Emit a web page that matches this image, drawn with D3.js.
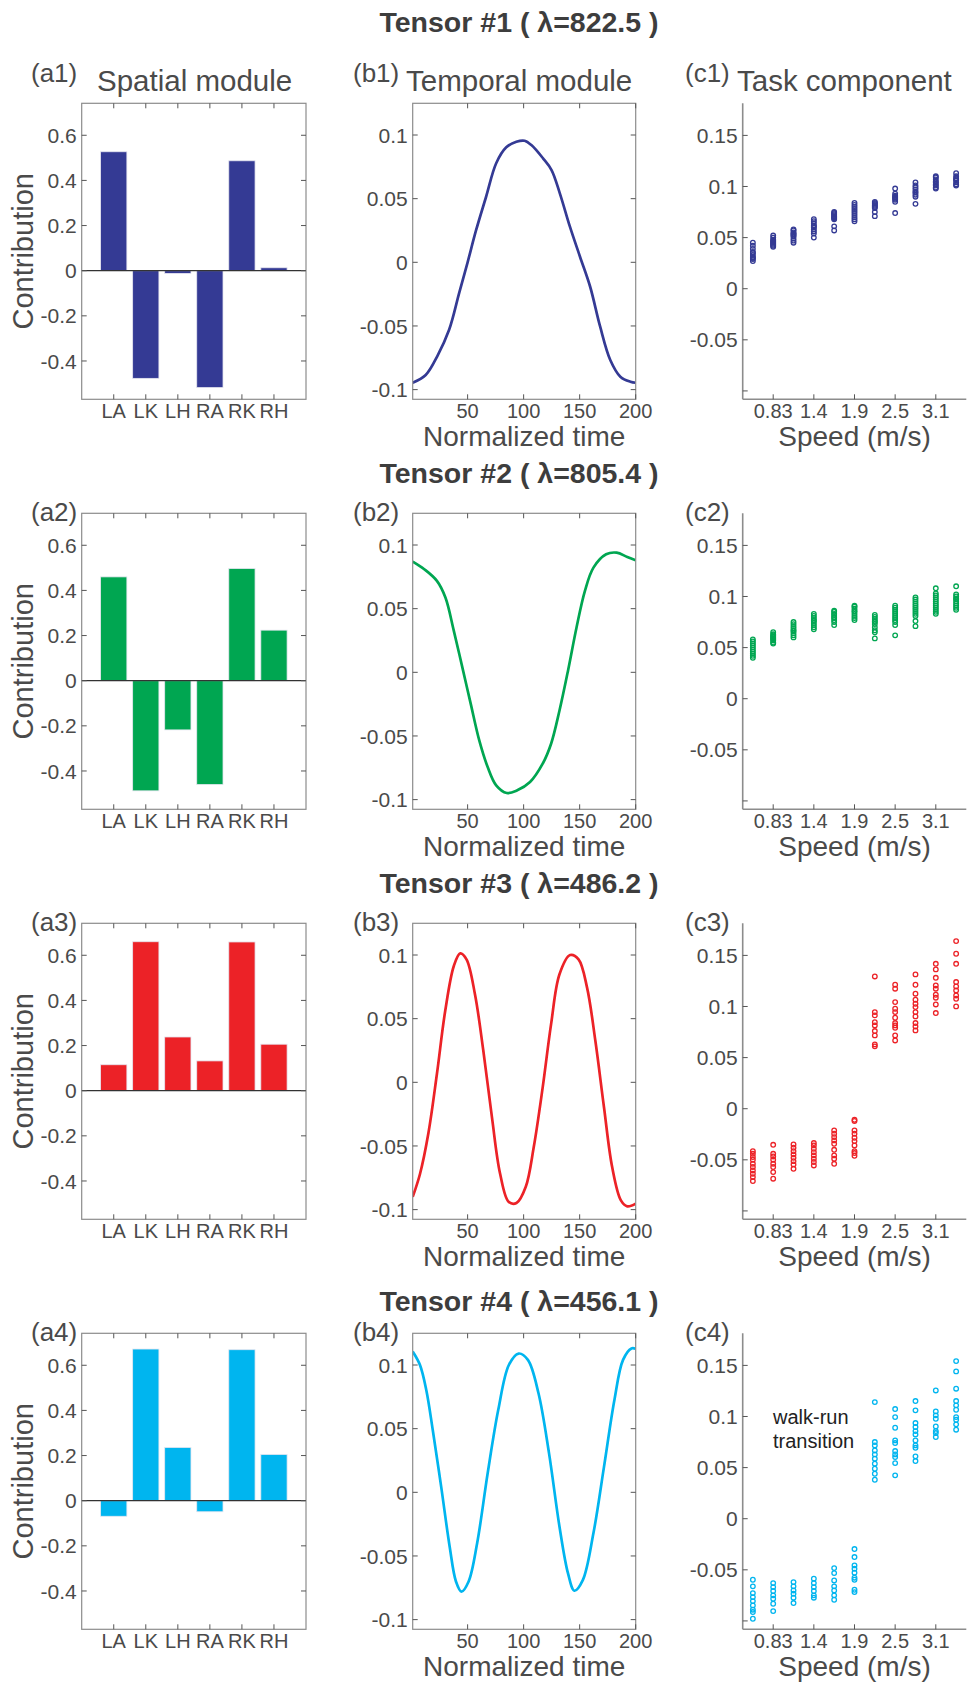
<!DOCTYPE html>
<html><head><meta charset="utf-8">
<script src="https://cdn.jsdelivr.net/npm/d3@7"></script>
<style>
html,body{margin:0;padding:0;background:#fff;}
svg text{font-family:"Liberation Sans",Arial,Helvetica,sans-serif;}
</style></head>
<body>
<svg id="chart" width="968" height="1682"></svg>
<script>
// ---------------- DATA ----------------
const joints = ["LA","LK","LH","RA","RK","RH"];
const tensorTitles = ["Tensor #1 ( λ=822.5 )","Tensor #2 ( λ=805.4 )","Tensor #3 ( λ=486.2 )","Tensor #4 ( λ=456.1 )"];
const colors = ["#343a94","#00a651","#ec2227","#00b5ef"];

const spatial1 = [0.527,-0.477,-0.012,-0.518,0.487,0.013];
const spatial2 = [0.460,-0.488,-0.218,-0.460,0.497,0.224];
const spatial3 = [0.115,0.660,0.238,0.132,0.659,0.206];
const spatial4 = [-0.069,0.672,0.236,-0.049,0.669,0.205];

const temporalT1 = [1,12.6,23,33.5,42.5,50,57.5,66.5,75.5,84.5,93.5,100.9,106.9,117.3,124.9,132.3,141.3,150.3,159.3,168.3,177.3,186.3,195.3,200];
const temporalV1 = [-0.0946,-0.0885,-0.0736,-0.053,-0.024,0,0.025,0.0515,0.0778,0.0903,0.0947,0.0955,0.0921,0.0817,0.0725,0.0542,0.028,0.0044,-0.019,-0.0506,-0.0767,-0.0898,-0.0938,-0.0946];
const temporalT2 = [1,11.3,22.6,30.2,37.7,45.3,52.8,60.4,67.9,75.5,84.9,94.3,105.7,117,124.5,132,139.6,147.2,154.7,162.3,173.6,183,192.5,200];
const temporalV2 = [0.087,0.081,0.0718,0.0587,0.0326,0.0039,-0.0248,-0.0535,-0.0744,-0.0888,-0.0948,-0.0927,-0.0862,-0.0718,-0.0561,-0.030,0.0013,0.0352,0.064,0.0822,0.0927,0.094,0.0906,0.088];
const temporalT3 = [1,7.5,15,22.6,30,37.7,43.4,49,56.6,64,71.7,79,86.8,93.6,101.9,109,117,124.5,132,141.5,149,156.6,164,171.7,179,186.8,192.5,200];
const temporalV3 = [-0.090,-0.072,-0.040,0.0065,0.056,0.0914,0.1013,0.0966,0.069,0.025,-0.0274,-0.0718,-0.094,-0.0948,-0.082,-0.051,-0.004,0.0457,0.0849,0.100,0.0966,0.0744,0.0326,-0.0196,-0.0666,-0.0927,-0.0974,-0.0953];
const temporalT4 = [1,7.5,13.2,18.9,26.4,34,39.6,44.5,50.9,58.5,67.9,77.4,86.8,95.5,103.8,113.2,122.6,132,139.6,145.3,152.8,162.3,171.7,181,188.7,196.2,200];
const temporalV4 = [0.1106,0.100,0.080,0.049,0.0045,-0.0427,-0.070,-0.078,-0.070,-0.040,0.015,0.065,0.100,0.109,0.104,0.078,0.031,-0.027,-0.0637,-0.0773,-0.069,-0.032,0.020,0.0726,0.104,0.113,0.1127];

const speedTickIndex = [2,4,6,8,10];
const speedTickLabels = ["0.83","1.4","1.9","2.5","3.1"];

const task1 = [
 [0.045,0.042,0.039,0.036,0.035,0.033,0.031,0.030,0.029,0.027],
 [0.052,0.050,0.048,0.047,0.046,0.045,0.044,0.043,0.042,0.041],
 [0.058,0.057,0.055,0.054,0.053,0.052,0.051,0.049,0.047,0.045],
 [0.068,0.066,0.064,0.062,0.061,0.060,0.058,0.056,0.054,0.050],
 [0.075,0.074,0.073,0.072,0.071,0.070,0.069,0.068,0.061,0.057],
 [0.084,0.082,0.080,0.078,0.076,0.074,0.072,0.070,0.068,0.066],
 [0.085,0.084,0.083,0.082,0.081,0.080,0.079,0.075,0.071],
 [0.098,0.093,0.091,0.090,0.089,0.088,0.087,0.085,0.074],
 [0.104,0.101,0.099,0.097,0.095,0.094,0.092,0.090,0.083],
 [0.110,0.109,0.107,0.105,0.104,0.102,0.101,0.099,0.098],
 [0.113,0.110,0.108,0.107,0.106,0.104,0.102,0.101]
];
const task2 = [
 [0.058,0.056,0.054,0.052,0.050,0.048,0.046,0.044,0.042,0.040],
 [0.065,0.063,0.062,0.061,0.060,0.059,0.058,0.057,0.055,0.054],
 [0.075,0.073,0.071,0.069,0.067,0.066,0.064,0.062,0.060],
 [0.083,0.081,0.079,0.077,0.076,0.074,0.072,0.070,0.068],
 [0.086,0.085,0.083,0.082,0.080,0.079,0.077,0.075,0.072],
 [0.091,0.090,0.088,0.086,0.085,0.083,0.081,0.079,0.077],
 [0.082,0.080,0.078,0.076,0.075,0.073,0.070,0.067,0.065,0.059],
 [0.091,0.089,0.087,0.085,0.083,0.081,0.079,0.077,0.075,0.072,0.062],
 [0.099,0.097,0.095,0.093,0.091,0.089,0.087,0.085,0.083,0.081,0.076,0.071],
 [0.108,0.103,0.101,0.099,0.097,0.095,0.093,0.091,0.089,0.087,0.085,0.083],
 [0.110,0.102,0.100,0.098,0.097,0.095,0.093,0.091,0.089,0.087]
];
const task3 = [
 [-0.0415,-0.0441,-0.0473,-0.0499,-0.0539,-0.0571,-0.0604,-0.0636,-0.0669,-0.0708],
 [-0.0353,-0.0441,-0.0467,-0.0499,-0.0539,-0.0571,-0.062,-0.0685],
 [-0.035,-0.0382,-0.0415,-0.0447,-0.048,-0.0513,-0.0545,-0.0588],
 [-0.0336,-0.0359,-0.0392,-0.0425,-0.0457,-0.049,-0.0522,-0.0555],
 [-0.0213,-0.0245,-0.0278,-0.031,-0.0343,-0.0402,-0.0457,-0.049,-0.0539],
 [-0.0108,-0.012,-0.0213,-0.0245,-0.0284,-0.0317,-0.0359,-0.0415,-0.0434,-0.046],
 [0.1294,0.0945,0.0913,0.0847,0.0815,0.076,0.0717,0.0629,0.061],
 [0.1213,0.1174,0.1043,0.0978,0.0945,0.089,0.0838,0.0815,0.0792,0.0717,0.0668],
 [0.1314,0.1213,0.1125,0.1066,0.1027,0.0994,0.0945,0.0903,0.0838,0.0805,0.0766],
 [0.1418,0.1363,0.1281,0.1206,0.1174,0.1115,0.1086,0.102,0.0936],
 [0.164,0.1516,0.1418,0.1239,0.1196,0.1157,0.1108,0.1076,0.1001]
];
const task4 = [
 [-0.0597,-0.0662,-0.0728,-0.0767,-0.0806,-0.0848,-0.089,-0.0913,-0.0979],
 [-0.063,-0.0669,-0.0708,-0.075,-0.0783,-0.0832,-0.0904],
 [-0.062,-0.0662,-0.0702,-0.0734,-0.0773,-0.0825],
 [-0.0587,-0.063,-0.0669,-0.0708,-0.075,-0.0773],
 [-0.0483,-0.0532,-0.0604,-0.0662,-0.0702,-0.075,-0.0793],
 [-0.0297,-0.0375,-0.0457,-0.049,-0.0528,-0.0577,-0.0597,-0.0695,-0.0718],
 [0.1141,0.0750,0.0717,0.0668,0.0629,0.0587,0.0538,0.0489,0.044,0.0381],
 [0.1073,0.0994,0.089,0.0766,0.074,0.0662,0.0629,0.0603,0.0544,0.0424],
 [0.1151,0.106,0.0936,0.0897,0.0857,0.0825,0.0766,0.0717,0.0694,0.061,0.0564],
 [0.1255,0.105,0.1011,0.0978,0.0903,0.0857,0.0838,0.0799],
 [0.1542,0.1441,0.1272,0.1151,0.1109,0.1066,0.0994,0.0968,0.0923,0.0871]
];

const spatialAll = [spatial1,spatial2,spatial3,spatial4];
const temporalAll = [[temporalT1,temporalV1],[temporalT2,temporalV2],[temporalT3,temporalV3],[temporalT4,temporalV4]];
const taskAll = [task1,task2,task3,task4];

// ---------------- LAYOUT ----------------
const svg = d3.select("#chart");
svg.append("rect").attr("width",968).attr("height",1682).attr("fill","#fff");

const rowTop = [103.3, 513.3, 923.3, 1333.3];
const boxH = 296;
const colA = [81.7, 306];
const colB = [412.7, 635.7];
const colC = [742.7, 966.3];
const titleY = [32, 483, 893, 1311];
const txt = "#4a4a4a";
const boxCol = "#8c8c8c";
const tickCol = "#555";
const tickLen = 5;

function yTicksInward(g, y, x0, x1, ticks, labels, withRight){
  ticks.forEach((t,i)=>{
    g.append("line").attr("x1",x0).attr("x2",x0+tickLen).attr("y1",y(t)).attr("y2",y(t)).attr("stroke",tickCol).attr("stroke-width",1);
    if(withRight) g.append("line").attr("x1",x1).attr("x2",x1-tickLen).attr("y1",y(t)).attr("y2",y(t)).attr("stroke",tickCol).attr("stroke-width",1);
    if(labels[i]!=="") g.append("text").attr("x",x0-5).attr("y",y(t)).attr("dy","0.36em").attr("text-anchor","end")
      .attr("font-size",21).attr("fill",txt).text(labels[i]);
  });
}
function xTicksInward(g, x, yb, yt, ticks, labels, withTop){
  ticks.forEach((t,i)=>{
    g.append("line").attr("x1",x(t)).attr("x2",x(t)).attr("y1",yb).attr("y2",yb-tickLen).attr("stroke",tickCol).attr("stroke-width",1);
    if(withTop) g.append("line").attr("x1",x(t)).attr("x2",x(t)).attr("y1",yt).attr("y2",yt+tickLen).attr("stroke",tickCol).attr("stroke-width",1);
    g.append("text").attr("x",x(t)).attr("y",yb+19).attr("text-anchor","middle")
      .attr("font-size",20).attr("fill",txt).text(labels[i]);
  });
}

for(let r=0;r<4;r++){
  const top = rowTop[r], bot = top+boxH, col = colors[r];
  // Tensor title
  svg.append("text").attr("x",519).attr("y",titleY[r]).attr("text-anchor","middle")
    .attr("font-size",28.5).attr("font-weight","bold").attr("fill","#3d3d3d").text(tensorTitles[r]);

  // ---- (a) spatial module ----
  const gA = svg.append("g");
  const xA = d3.scaleLinear().domain([0,7]).range(colA);
  const yA = d3.scaleLinear().domain([-0.5698,0.7417]).range([bot,top]);
  const bw = xA(0.82)-xA(0);
  gA.selectAll("rect.bar").data(spatialAll[r]).join("rect").attr("class","bar")
    .attr("x",(d,i)=>xA(i+1)-bw/2).attr("width",bw)
    .attr("y",d=>yA(Math.max(0,d))).attr("height",d=>Math.abs(yA(d)-yA(0)))
    .attr("fill",col).attr("stroke","#e6e6f0").attr("stroke-width",0.8);
  gA.append("line").attr("x1",colA[0]).attr("x2",colA[1]).attr("y1",yA(0)).attr("y2",yA(0)).attr("stroke","#333").attr("stroke-width",1.2);
  gA.append("rect").attr("x",colA[0]).attr("y",top).attr("width",colA[1]-colA[0]).attr("height",boxH)
    .attr("fill","none").attr("stroke",boxCol).attr("stroke-width",1.2);
  yTicksInward(gA,yA,colA[0],colA[1],[-0.4,-0.2,0,0.2,0.4,0.6],["-0.4","-0.2","0","0.2","0.4","0.6"],true);
  xTicksInward(gA,xA,bot,top,[1,2,3,4,5,6],joints,true);
  gA.append("text").attr("transform",`translate(23,${(top+bot)/2}) rotate(-90)`).attr("text-anchor","middle")
    .attr("dy","0.35em").attr("font-size",29).attr("fill",txt).text("Contribution");

  // ---- (b) temporal module ----
  const gB = svg.append("g");
  const xB = d3.scaleLinear().domain([1,200]).range(colB);
  const yB = d3.scaleLinear().domain([-0.1076,0.1249]).range([bot,top]);
  const [tt,vv] = temporalAll[r];
  const pts = tt.map((t,i)=>[t,vv[i]]);
  const clipId = "clipB"+r;
  gB.append("clipPath").attr("id",clipId).append("rect").attr("x",colB[0]).attr("y",top).attr("width",colB[1]-colB[0]).attr("height",boxH);
  gB.append("path").attr("d",d3.line().x(d=>xB(d[0])).y(d=>yB(d[1])).curve(d3.curveCatmullRom.alpha(0.5))(pts))
    .attr("fill","none").attr("stroke",col).attr("stroke-width",2.7).attr("clip-path",`url(#${clipId})`);
  gB.append("rect").attr("x",colB[0]).attr("y",top).attr("width",colB[1]-colB[0]).attr("height",boxH)
    .attr("fill","none").attr("stroke",boxCol).attr("stroke-width",1.2);
  yTicksInward(gB,yB,colB[0],colB[1],[-0.1,-0.05,0,0.05,0.1],["-0.1","-0.05","0","0.05","0.1"],true);
  xTicksInward(gB,xB,bot,top,[50,100,150,200],["50","100","150","200"],true);
  gB.append("text").attr("x",(colB[0]+colB[1])/2).attr("y",bot+47).attr("text-anchor","middle")
    .attr("font-size",28).attr("fill",txt).text("Normalized time");

  // ---- (c) task component ----
  const gC = svg.append("g");
  const xC = d3.scaleLinear().domain([0.5,11.5]).range(colC);
  const yC = d3.scaleLinear().domain([-0.1082,0.1814]).range([bot,top]);
  const flat = [];
  taskAll[r].forEach((arr,i)=>arr.forEach(v=>flat.push([i+1,v])));
  gC.selectAll("circle").data(flat).join("circle")
    .attr("cx",d=>xC(d[0])).attr("cy",d=>yC(d[1])).attr("r",2.3)
    .attr("fill","none").attr("stroke",col).attr("stroke-width",1.3);
  gC.append("line").attr("x1",colC[0]).attr("x2",colC[0]).attr("y1",top).attr("y2",bot).attr("stroke",boxCol).attr("stroke-width",1.6);
  gC.append("line").attr("x1",colC[0]).attr("x2",colC[1]).attr("y1",bot).attr("y2",bot).attr("stroke",boxCol).attr("stroke-width",1.6);
  yTicksInward(gC,yC,colC[0],colC[1],[-0.1,-0.05,0,0.05,0.1,0.15],["","-0.05","0","0.05","0.1","0.15"],false);
  xTicksInward(gC,xC,bot,top,speedTickIndex,speedTickLabels,false);
  gC.append("text").attr("x",(colC[0]+colC[1])/2).attr("y",bot+47).attr("text-anchor","middle")
    .attr("font-size",28).attr("fill",txt).text("Speed (m/s)");

  // panel labels
  const ly = r===0 ? 82 : top+8;
  svg.append("text").attr("x",31).attr("y",ly).attr("font-size",26).attr("fill",txt).text(`(a${r+1})`);
  svg.append("text").attr("x",353).attr("y",ly).attr("font-size",26).attr("fill",txt).text(`(b${r+1})`);
  svg.append("text").attr("x",685).attr("y",ly).attr("font-size",26).attr("fill",txt).text(`(c${r+1})`);
}

// subtitles on first row
svg.append("text").attr("x",97).attr("y",91).attr("font-size",29.5).attr("fill",txt).text("Spatial module");
svg.append("text").attr("x",406).attr("y",91).attr("font-size",29.5).attr("fill",txt).text("Temporal module");
svg.append("text").attr("x",737).attr("y",91).attr("font-size",29.5).attr("fill",txt).text("Task component");

// annotation
svg.append("text").attr("x",773).attr("y",1424).attr("font-size",20).attr("fill","#222").text("walk-run");
svg.append("text").attr("x",773).attr("y",1448).attr("font-size",20).attr("fill","#222").text("transition");
</script>
</body></html>
